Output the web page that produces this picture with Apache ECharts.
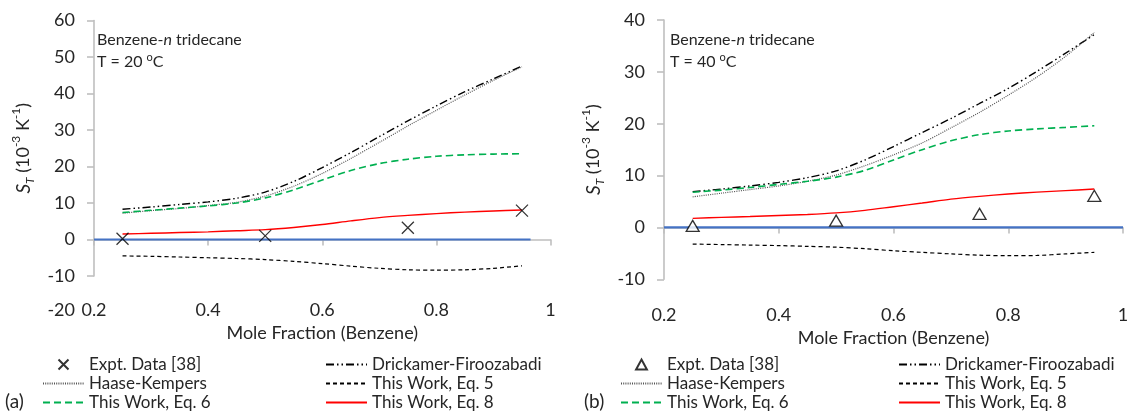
<!DOCTYPE html>
<html>
<head>
<meta charset="utf-8">
<script src="https://cdn.jsdelivr.net/npm/echarts@6/dist/echarts.min.js"></script>
<style>
  html, body { margin: 0; padding: 0; background: #fff; }
  #wrap { position: relative; width: 1133px; height: 411px; }
  #chartA { position: absolute; left: 0; top: 0; width: 570px; height: 411px; }
  #chartB { position: absolute; left: 570px; top: 0; width: 563px; height: 411px; }
</style>
</head>
<body>
<div id="wrap"><div id="chartA"></div><div id="chartB"></div></div>
<script>
// Mole fraction of benzene at which the model curves are evaluated
const moleFraction = [0.25, 0.30, 0.35, 0.40, 0.45, 0.50, 0.55, 0.60, 0.65, 0.70, 0.75, 0.80, 0.85, 0.90, 0.95];
// Measured points
const exptX = [0.25, 0.50, 0.75, 0.95];

// (a) T = 20 C, Soret coefficient S_T in 1e-3 1/K
const exptA  = [0.2, 1.0, 3.2, 7.9];
const drickA = [8.3, 8.9, 9.6, 10.3, 11.3, 13.0, 15.9, 19.7, 23.8, 28.2, 32.5, 36.6, 40.5, 44.0, 47.5];
const haaseA = [7.2, 7.9, 8.5, 9.3, 10.2, 11.9, 14.6, 18.1, 22.2, 26.6, 31.1, 35.4, 39.6, 43.6, 47.3];
const eq5A   = [-4.5, -4.6, -4.8, -5.0, -5.2, -5.5, -6.0, -6.6, -7.3, -7.9, -8.3, -8.4, -8.3, -7.9, -7.2];
const eq6A   = [7.4, 8.0, 8.6, 9.2, 10.0, 11.4, 13.6, 16.3, 18.9, 20.8, 22.0, 22.8, 23.2, 23.4, 23.5];
const eq8A   = [1.5, 1.7, 1.9, 2.1, 2.4, 2.7, 3.3, 4.1, 5.1, 6.0, 6.6, 7.1, 7.5, 7.8, 8.1];
const zeroXA = [0.2, 0.965];

// (b) T = 40 C
const exptB  = [0.3, 1.3, 2.6, 6.1];
const drickB = [6.9, 7.4, 8.0, 8.7, 9.6, 10.9, 13.0, 15.6, 18.3, 21.0, 23.9, 26.8, 30.1, 33.6, 37.2];
const haaseB = [5.9, 6.6, 7.3, 8.0, 8.9, 10.1, 11.9, 14.0, 16.3, 19.2, 22.2, 25.5, 29.0, 33.0, 37.6];
const eq5B   = [-3.2, -3.3, -3.4, -3.5, -3.65, -3.8, -4.1, -4.5, -4.8, -5.1, -5.35, -5.45, -5.4, -5.1, -4.8];
const eq6B   = [6.8, 7.2, 7.7, 8.3, 8.9, 9.7, 11.0, 13.0, 15.0, 16.7, 17.9, 18.6, 19.0, 19.3, 19.6];
const eq8B   = [1.75, 1.95, 2.1, 2.3, 2.5, 2.8, 3.3, 4.0, 4.7, 5.45, 6.0, 6.45, 6.8, 7.1, 7.4];
const zeroXB = [0.2, 1.0];

const NAMES = {
  expt: 'Expt. Data [38]',
  drick: 'Drickamer-Firoozabadi',
  haase: 'Haase-Kempers',
  eq5: 'This Work, Eq. 5',
  eq6: 'This Work, Eq. 6',
  eq8: 'This Work, Eq. 8'
};

const FONT = 'Lato, "Open Sans", sans-serif';
const TEXT = '#262626';
const AXIS = '#BFBFBF';

const CROSS = 'path://M0,0L10,10M10,0L0,10';
const TRIANGLE = 'path://M6.5,0L13,12L0,12Z';

function pairs(xs, ys) { return xs.map((x, i) => [x, ys[i]]); }

function lineSeries(name, ys, style) {
  return {
    name, type: 'line', data: pairs(moleFraction, ys), symbol: 'none',
    smooth: 0.3, lineStyle: style, z: 3, silent: true,
    // keeps the legend swatch a bare line
    itemStyle: { color: 'rgba(0,0,0,0)', borderWidth: 0 }
  };
}

function legendBlock(left, names) {
  return {
    orient: 'vertical', left: left, top: 356, height: 70, itemWidth: 41, itemHeight: 10,
    itemGap: 2, selectedMode: false, padding: 0,
    textStyle: { fontSize: 17, color: TEXT, fontFamily: FONT, lineHeight: 17 },
    data: names
  };
}

function buildOption(p) {
  return {
    animation: false,
    backgroundColor: '#fff',
    textStyle: { fontFamily: FONT },
    grid: { left: p.grid.left, right: p.grid.right, top: p.grid.top, bottom: p.grid.bottom,
            containLabel: false, outerBoundsMode: 'none' },
    xAxis: {
      type: 'value', min: 0.2, max: 1, interval: 0.2,
      name: 'Mole Fraction (Benzene)', nameLocation: 'middle', nameGap: p.xNameGap,
      nameTextStyle: { fontSize: 18, color: TEXT, fontFamily: FONT },
      axisLine: { show: true, lineStyle: { color: AXIS, width: 1.6 } },
      axisTick: { show: true, length: 6, lineStyle: { color: AXIS, width: 1.6 } },
      axisLabel: { fontSize: 18, color: TEXT, margin: p.xLabelMargin, fontFamily: FONT,
                   formatter: v => String(Math.round(v * 10) / 10) },
      splitLine: { show: false }
    },
    yAxis: {
      type: 'value', min: p.yMin, max: p.yMax, interval: 10,
      name: '{i|S}{sub|T} (10{sup|-3} K{sup|-1})', nameLocation: 'middle', nameGap: p.yNameGap,
      nameRotate: 90,
      nameTextStyle: {
        fontSize: 18, color: TEXT, fontFamily: FONT, lineHeight: 26,
        rich: {
          i: { fontStyle: 'italic', fontSize: 19, lineHeight: 26, color: TEXT, fontFamily: FONT },
          sub: { fontStyle: 'italic', fontSize: 12, lineHeight: 26, verticalAlign: 'bottom', color: TEXT, fontFamily: FONT },
          sup: { fontSize: 12, lineHeight: 26, verticalAlign: 'top', color: TEXT, fontFamily: FONT }
        }
      },
      axisLine: { show: true, lineStyle: { color: AXIS, width: 1.6 } },
      axisTick: { show: true, length: 7, lineStyle: { color: AXIS, width: 1.6 } },
      axisLabel: { fontSize: 18, color: TEXT, margin: 19, fontFamily: FONT },
      splitLine: { show: false }
    },
    legend: [
      legendBlock(p.legendLeft[0], [NAMES.expt, NAMES.haase, NAMES.eq6]),
      legendBlock(p.legendLeft[1], [NAMES.drick, NAMES.eq5, NAMES.eq8])
    ],
    graphic: p.graphic,
    series: [
      {
        name: 'zero', type: 'line', data: p.zeroX.map(x => [x, 0]), symbol: 'none',
        lineStyle: { color: '#4472C4', width: 2.2 }, z: 2, silent: true
      },
      lineSeries(NAMES.drick, p.drick, { color: '#000', width: 1.4, type: [8, 3, 1.5, 3, 1.5, 3] }),
      lineSeries(NAMES.haase, p.haase, { color: '#555', width: 1.2, type: [1, 1.2] }),
      lineSeries(NAMES.eq6, p.eq6, { color: '#00B050', width: 1.6, type: [7, 4] }),
      lineSeries(NAMES.eq5, p.eq5, { color: '#000', width: 1.2, type: [4, 3] }),
      lineSeries(NAMES.eq8, p.eq8, { color: '#FF0000', width: 1.4 }),
      {
        name: NAMES.expt, type: 'scatter', data: pairs(exptX, p.expt),
        symbol: p.marker, symbolSize: p.markerSize, symbolKeepAspect: true, z: 5, silent: true,
        itemStyle: { color: p.markerFill, borderColor: '#000', borderWidth: 1.3 }
      }
    ]
  };
}

function annotation(x, temp, panel, panelX, yAxisExtra) {
  const items = [
    {
      type: 'text', left: x, top: 32,
      style: {
        text: 'Benzene-{i|n} tridecane', fill: TEXT, font: '16px ' + FONT,
        rich: { i: { fontStyle: 'italic', fontSize: 16, fill: TEXT, fontFamily: FONT } }
      }
    },
    {
      type: 'text', left: x, top: 52,
      style: {
        text: 'T = ' + temp + ' {sup|o}C', fill: TEXT, font: '16px ' + FONT, lineHeight: 19,
        rich: { sup: { fontSize: 11, lineHeight: 19, verticalAlign: 'top', fill: TEXT, fontFamily: FONT } }
      }
    },
    {
      type: 'text', left: panelX, top: 392,
      style: { text: panel, fill: TEXT, font: '19px ' + FONT }
    }
  ];
  if (yAxisExtra) items.push(yAxisExtra);
  return items;
}

const chartA = echarts.init(document.getElementById('chartA'), null, { renderer: 'canvas' });
chartA.setOption(buildOption({
  grid: { left: 94, right: 19.5, top: 20.5, bottom: 135 },
  yMin: -10, yMax: 60, xNameGap: 46, xLabelMargin: 25, yNameGap: 57,
  legendLeft: [42, 325],
  zeroX: zeroXA,
  drick: drickA, haase: haaseA, eq5: eq5A, eq6: eq6A, eq8: eq8A, expt: exptA,
  marker: CROSS, markerSize: 12, markerFill: 'none',
  graphic: annotation(97, '20', '(a)', 5, {
    // bottom tick label of the value axis, below the category line
    type: 'text', right: 570 - 75, top: 301,
    style: { text: '-20', fill: TEXT, font: '18px ' + FONT, align: 'right' }
  })
}));

const chartB = echarts.init(document.getElementById('chartB'), null, { renderer: 'canvas' });
chartB.setOption(buildOption({
  grid: { left: 94, right: 10, top: 20, bottom: 131.7 },
  yMin: -10, yMax: 40, xNameGap: 47, xLabelMargin: 27, yNameGap: 51,
  legendLeft: [50, 328],
  zeroX: zeroXB,
  drick: drickB, haase: haaseB, eq5: eq5B, eq6: eq6B, eq8: eq8B, expt: exptB,
  marker: TRIANGLE, markerSize: [13, 12], markerFill: '#fff',
  graphic: annotation(100, '40', '(b)', 14, null)
}));
</script>
</body>
</html>
